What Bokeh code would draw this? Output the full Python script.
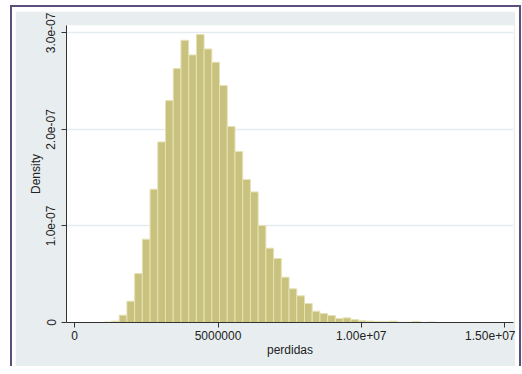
from bokeh.plotting import figure
from bokeh.models import Range1d, FixedTicker, ColumnDataSource
from bokeh.embed import file_html
from bokeh.resources import INLINE

# ---- data ----
bin_start = 1.013e6
bin_width = 0.2694e6
densities = [0.005e-7, 0.014e-7, 0.076e-7, 0.221e-7, 0.507e-7, 0.863e-7, 1.381e-7,
             1.871e-7, 2.299e-7, 2.631e-7, 2.924e-7, 2.772e-7, 2.983e-7, 2.834e-7,
             2.696e-7, 2.455e-7, 2.030e-7, 1.771e-7, 1.481e-7, 1.353e-7, 1.005e-7,
             0.770e-7, 0.663e-7, 0.470e-7, 0.349e-7, 0.276e-7, 0.197e-7, 0.117e-7,
             0.093e-7, 0.072e-7, 0.041e-7, 0.048e-7, 0.031e-7, 0.017e-7, 0.014e-7,
             0.010e-7, 0.007e-7, 0.014e-7, 0.003e-7, 0.003e-7, 0.010e-7, 0.001e-7,
             0.005e-7]
x_ticks = [0, 5000000, 10000000, 15000000]
x_tick_labels = ["0", "5000000", "1.00e+07", "1.50e+07"]
y_ticks = [0, 1e-7, 2e-7, 3e-7]
y_tick_labels = ["0", "1.0e-07", "2.0e-07", "3.0e-07"]
x_title = "perdidas"
y_title = "Density"

lefts = [bin_start + i * bin_width for i in range(len(densities))]
rights = [l + bin_width for l in lefts]
src = ColumnDataSource(dict(left=lefts, right=rights, top=densities,
                            bottom=[0] * len(densities)))

FONT = "Liberation Sans"
TXT = "#222222"
REGION = "#e8eef0"
FRAME_PURPLE = "#5e4e7c"

# width includes the page frame's border/padding; height is the drawing area
p = figure(width=511, height=361, output_backend="svg", toolbar_location=None,
           x_range=Range1d(-0.286e6, 15.31e6), y_range=Range1d(0, 3.077e-7),
           min_border_left=51, min_border_right=13, min_border_top=14,
           min_border_bottom=50)
p.background_fill_color = "white"
p.border_fill_color = REGION
p.outline_line_color = None

p.quad(left="left", right="right", top="top", bottom="bottom", source=src,
       fill_color="#c8c27e", line_color="#e6e2b4", line_width=1)

p.xgrid.visible = False
p.ygrid.grid_line_color = "#e4ecef"
p.ygrid.grid_line_width = 1.5
p.ygrid.ticker = FixedTicker(ticks=y_ticks[1:])

p.xaxis.ticker = FixedTicker(ticks=x_ticks)
p.xaxis.major_label_overrides = dict(zip(x_ticks, x_tick_labels))
p.yaxis.ticker = FixedTicker(ticks=y_ticks)
p.yaxis.major_label_overrides = dict(zip(y_ticks, y_tick_labels))
p.yaxis.major_label_orientation = "vertical"
p.xaxis.axis_label = x_title
p.yaxis.axis_label = y_title

for ax in (p.xaxis[0], p.yaxis[0]):
    ax.axis_line_color = "#333333"
    ax.major_tick_line_color = "#333333"
    ax.major_tick_in = 0
    ax.major_tick_out = 5
    ax.minor_tick_line_color = None
    ax.major_label_text_font = FONT
    ax.major_label_text_font_size = "12px"
    ax.major_label_text_color = TXT
    ax.axis_label_text_font = FONT
    ax.axis_label_text_font_size = "12px"
    ax.axis_label_text_font_style = "normal"
    ax.axis_label_text_color = TXT
p.xaxis.major_label_standoff = 3
p.xaxis.axis_label_standoff = 0
p.yaxis.major_label_standoff = 6
p.yaxis.axis_label_standoff = 1

# outer page frame: purple rule on left/top/right with a white gap
p.styles = {"border-left": f"2px solid {FRAME_PURPLE}",
            "border-top": f"2px solid {FRAME_PURPLE}",
            "border-right": f"2px solid {FRAME_PURPLE}",
            "padding": "4px 4px 0px 3px",
            "margin": "5px 0px 0px 10px",
            "background-color": "white"}

open("out.html", "w").write(file_html(p, INLINE))
